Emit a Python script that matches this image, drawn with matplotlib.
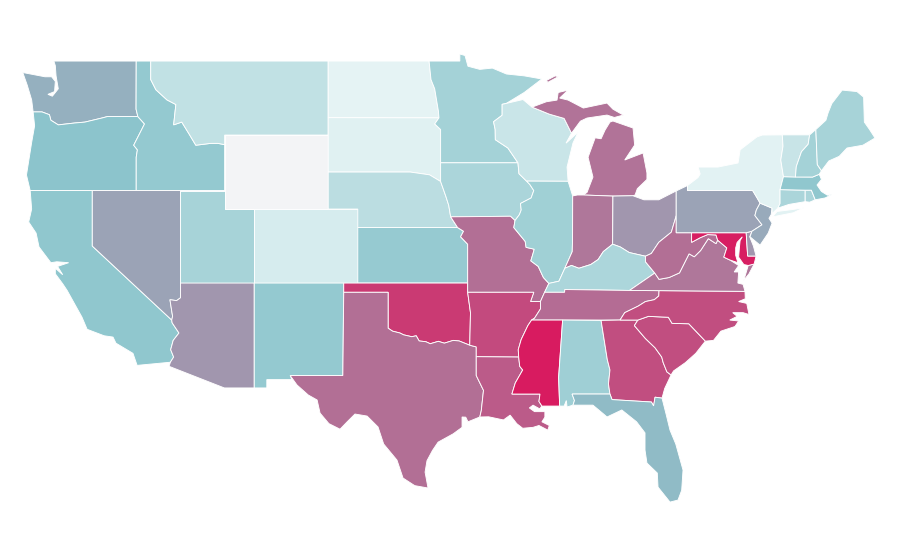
import matplotlib
matplotlib.use("Agg")
import matplotlib.pyplot as plt
from matplotlib.colors import LinearSegmentedColormap
from matplotlib.patches import Polygon

state_names = ["WA", "OR", "CA", "ID", "NV", "UT", "AZ", "MT", "WY", "CO", "NM", "ND", "SD", "NE", "KS", "OK", "TX",
               "MN", "IA", "MO", "AR", "LA", "WI", "IL", "MI", "IN", "OH", "KY", "TN", "MS", "AL", "GA", "FL", "SC",
               "NC", "VA", "WV", "MD", "DE", "PA", "NJ", "NY", "CT", "RI", "MA", "VT", "NH", "ME"]
state_values = [56, 50, 48, 46, 60, 37, 64, 24, 0, 14, 46, 7, 9, 27, 45, 91, 75,
                38, 35, 75, 86, 81, 20, 40, 74, 73, 64, 34, 76, 100, 41, 85, 53, 85,
                85, 73, 75, 99, 64, 60, 58, 8, 35, 35, 48, 21, 38, 37]
scale_stops = [0, 0.05, 0.5, 1]
scale_colors = ["#f3f4f6", "#e8f5f6", "#8cc5cc", "#d81b60"]

# outlines in lon, lat
WA = [[(-124.0, 46.25), (-123.4, 46.25), (-122.9, 46.1), (-122.8, 45.8), (-122.3, 45.55), (-121.2, 45.65), (-120.5, 45.7),
       (-119.3, 45.93), (-118.98, 46.0), (-116.92, 46.0), (-117.04, 46.4), (-117.03, 49), (-122.6, 49), (-122.5, 48.75),
       (-122.45, 48.2), (-122.3, 47.5), (-122.7, 47.1), (-123.0, 47.2), (-122.55, 47.35), (-122.5, 47.9), (-122.75, 48.15),
       (-123.2, 48.15), (-124.7, 48.38), (-124.4, 47.7), (-124.1, 46.9)]]
OR = [[(-124.2, 42), (-117.03, 42), (-117.03, 43.8), (-116.95, 44.2), (-117.2, 44.45), (-116.85, 45.0), (-116.47, 45.6),
       (-116.92, 46.0), (-118.98, 46.0), (-119.3, 45.93), (-120.5, 45.7), (-121.2, 45.65), (-122.3, 45.55), (-122.8, 45.8),
       (-122.9, 46.1), (-123.4, 46.25), (-124.0, 46.25), (-123.9, 45.5), (-124.1, 44.6), (-124.45, 42.84)]]
CA = [[(-124.2, 42), (-120, 42), (-120, 39), (-114.63, 35.0), (-114.6, 34.85), (-114.14, 34.3), (-114.53, 33.9), (-114.7, 33.4),
       (-114.5, 33.0), (-114.72, 32.72), (-116.97, 32.55), (-117.25, 33.2), (-118.4, 33.75), (-118.6, 34.08), (-119.2, 34.15),
       (-120.35, 34.5), (-120.7, 35.16), (-121.7, 36.6), (-122.0, 36.96), (-122.5, 37.5), (-122.5, 37.8), (-122.0, 37.45),
       (-122.35, 37.9), (-121.6, 38.1), (-122.4, 38.15), (-122.8, 38.1), (-123.6, 38.95), (-123.8, 39.7), (-124.3, 40.3),
       (-124.1, 41.0)]]
ID = [[(-117.03, 49), (-116.05, 49), (-116.05, 48.0), (-115.7, 47.45), (-114.95, 46.9), (-114.35, 46.65), (-114.5, 45.55),
       (-113.95, 45.7), (-113.45, 45.05), (-113.0, 44.45), (-112.0, 44.55), (-111.5, 44.55), (-111.05, 44.48), (-111.05, 42),
       (-117.03, 42), (-117.03, 43.8), (-116.95, 44.2), (-117.2, 44.45), (-116.85, 45.0), (-116.47, 45.6), (-116.92, 46.0),
       (-117.04, 46.4)]]
NV = [[(-120, 42), (-114.04, 42), (-114.04, 36.2), (-114.3, 36.05), (-114.75, 36.1), (-114.57, 35.2), (-114.63, 35.0), (-120, 39)]]
UT = [[(-114.04, 42), (-111.05, 42), (-111.05, 41), (-109.05, 41), (-109.05, 37), (-114.04, 37)]]
AZ = [[(-114.04, 37), (-109.05, 37), (-109.05, 31.33), (-111.07, 31.33), (-114.81, 32.5), (-114.72, 32.72), (-114.5, 33.0),
       (-114.7, 33.4), (-114.53, 33.9), (-114.14, 34.3), (-114.6, 34.85), (-114.63, 35.0), (-114.57, 35.2), (-114.75, 36.1),
       (-114.3, 36.05), (-114.04, 36.2)]]
MT = [[(-116.05, 49), (-104.05, 49), (-104.05, 45), (-111.05, 45), (-111.05, 44.48), (-111.5, 44.55), (-112.0, 44.55),
       (-113.0, 44.45), (-113.45, 45.05), (-113.95, 45.7), (-114.5, 45.55), (-114.35, 46.65), (-114.95, 46.9), (-115.7, 47.45),
       (-116.05, 48.0)]]
WY = [[(-111.05, 45), (-104.05, 45), (-104.05, 41), (-111.05, 41)]]
CO = [[(-109.05, 41), (-102.05, 41), (-102.05, 37), (-109.05, 37)]]
NM = [[(-109.05, 37), (-103.0, 37), (-103.06, 32), (-106.62, 32), (-106.5, 31.78), (-108.2, 31.78), (-108.2, 31.33), (-109.05, 31.33)]]
ND = [[(-104.05, 49), (-97.23, 49), (-97.1, 48.0), (-96.85, 47.5), (-96.6, 46.3), (-96.56, 45.93), (-104.05, 45.94)]]
SD = [[(-104.05, 45.94), (-96.56, 45.93), (-96.85, 45.6), (-96.45, 45.3), (-96.45, 43.5), (-96.45, 42.49), (-97.2, 42.85),
       (-98.5, 43.0), (-104.05, 43)]]
NE = [[(-104.05, 43), (-98.5, 43), (-97.2, 42.85), (-96.45, 42.49), (-96.1, 41.7), (-95.9, 41.2), (-95.77, 40.58), (-95.3, 40),
       (-102.05, 40), (-102.05, 41), (-104.05, 41)]]
KS = [[(-102.05, 40), (-95.3, 40), (-94.9, 39.8), (-95.1, 39.5), (-94.62, 39.1), (-94.62, 37), (-102.05, 37)]]
OK = [[(-103, 37), (-94.62, 37), (-94.62, 36.5), (-94.43, 35.4), (-94.48, 33.64), (-95.2, 33.87), (-95.6, 33.9), (-96.2, 33.75),
       (-96.6, 33.85), (-97.15, 33.72), (-97.45, 33.83), (-97.9, 33.87), (-98.1, 34.15), (-98.4, 34.1), (-98.95, 34.2),
       (-99.2, 34.3), (-99.7, 34.4), (-100, 34.56), (-100, 36.5), (-103, 36.5)]]
TX = [[(-103.0, 36.5), (-100, 36.5), (-100, 34.56), (-99.7, 34.4), (-99.2, 34.3), (-98.95, 34.2), (-98.4, 34.1), (-98.1, 34.15),
       (-97.9, 33.87), (-97.45, 33.83), (-97.15, 33.72), (-96.6, 33.85), (-96.2, 33.75), (-95.6, 33.9), (-95.2, 33.87),
       (-94.48, 33.64), (-94.04, 33.55), (-94.04, 32.0), (-93.55, 31.2), (-93.7, 30.1), (-93.8, 29.76), (-94.6, 29.5),
       (-94.75, 29.75), (-95.0, 29.76), (-95.0, 29.2), (-95.6, 28.85), (-96.62, 28.4), (-97.0, 27.95), (-97.37, 27.4), (-97.5, 26.78),
       (-97.3, 25.92), (-98.2, 26.05), (-98.99, 26.46), (-99.4, 27.43), (-100.3, 28.3), (-100.68, 29.22),
       (-101.42, 29.81), (-102.24, 29.92), (-102.78, 29.49), (-103.25, 29.1), (-104.0, 29.4), (-104.6, 29.97), (-104.8, 30.68),
       (-105.4, 30.95), (-106.16, 31.49), (-106.62, 32), (-103.06, 32)]]
MN = [[(-97.23, 49), (-95.15, 49), (-95.15, 49.38), (-94.8, 49.3), (-94.6, 48.72), (-93.8, 48.55), (-92.95, 48.62), (-92.0, 48.3),
       (-90.8, 48.2), (-89.6, 48.03), (-90.8, 47.3), (-92.01, 46.71), (-92.29, 46.66), (-92.29, 46.07), (-92.87, 45.72),
       (-92.76, 45.3), (-92.75, 44.75), (-91.9, 44.3), (-91.22, 43.5), (-96.45, 43.5), (-96.45, 45.3), (-96.85, 45.6),
       (-96.56, 45.93), (-96.6, 46.3), (-96.85, 47.5), (-97.1, 48.0)]]
IA = [[(-96.45, 43.5), (-91.22, 43.5), (-91.15, 42.91), (-90.64, 42.51), (-90.42, 42.33), (-90.15, 42.0), (-90.33, 41.6),
       (-91.05, 41.3), (-91.0, 40.95), (-91.12, 40.7), (-91.42, 40.38), (-91.73, 40.61), (-95.77, 40.58), (-95.9, 41.2),
       (-96.1, 41.7), (-96.45, 42.49)]]
MO = [[(-95.77, 40.58), (-91.73, 40.61), (-91.42, 40.38), (-91.5, 40.0), (-90.73, 39.25), (-90.67, 38.93), (-90.12, 38.83),
       (-90.2, 38.6), (-90.35, 38.2), (-89.85, 37.9), (-89.5, 37.3), (-89.13, 36.98), (-89.42, 36.5), (-89.7, 36.0), (-90.37, 36.0),
       (-90.15, 36.5), (-94.62, 36.5), (-94.62, 39.1), (-95.1, 39.5), (-94.9, 39.8), (-95.3, 40)]]
AR = [[(-94.62, 36.5), (-90.15, 36.5), (-90.37, 36.0), (-89.7, 36.0), (-89.7, 35.6), (-90.1, 35.1), (-90.3, 35.0), (-90.55, 34.7),
       (-91.0, 33.95), (-91.2, 33.4), (-91.17, 33.0), (-94.04, 33.02), (-94.04, 33.55), (-94.48, 33.64), (-94.43, 35.4)]]
LA = [[(-94.04, 33.02), (-91.17, 33.0), (-91.1, 32.5), (-90.9, 32.3), (-91.4, 31.6), (-91.63, 31.0), (-89.73, 31.0), (-89.8, 30.6),
       (-89.6, 30.35), (-89.75, 30.2), (-90.2, 30.4), (-90.45, 30.25), (-90.1, 30.05), (-89.4, 30.05), (-89.4, 29.75), (-89.6, 29.5),
       (-89.1, 29.3), (-89.2, 29.05), (-89.8, 29.3), (-90.2, 29.2), (-90.9, 29.15), (-91.3, 29.4), (-91.75, 29.86), (-92.2, 29.6),
       (-93.2, 29.77), (-93.8, 29.76), (-93.7, 30.1), (-93.55, 31.2), (-94.04, 32.0)]]
WI = [[(-92.01, 46.71), (-90.88, 46.92), (-90.27, 46.51), (-89.1, 46.13), (-88.1, 45.9), (-87.6, 45.1), (-87.97, 44.56), (-87.15, 45.16),
       (-87.5, 44.57), (-87.9, 43.27), (-87.83, 42.5), (-90.64, 42.51), (-91.15, 42.91), (-91.22, 43.5), (-91.9, 44.3), (-92.75, 44.75),
       (-92.76, 45.3), (-92.87, 45.72), (-92.29, 46.07), (-92.29, 46.66)]]
IL = [[(-90.64, 42.51), (-87.83, 42.5), (-87.52, 41.71), (-87.53, 39.35), (-87.55, 38.7), (-88.05, 37.8), (-88.45, 37.1), (-89.13, 36.98),
       (-89.5, 37.3), (-89.85, 37.9), (-90.35, 38.2), (-90.2, 38.6), (-90.12, 38.83), (-90.67, 38.93), (-90.73, 39.25), (-91.5, 40.0),
       (-91.42, 40.38), (-91.12, 40.7), (-91.0, 40.95), (-91.05, 41.3), (-90.33, 41.6), (-90.15, 42.0), (-90.42, 42.33)]]
MI = [[(-90.27, 46.51), (-89.3, 46.8), (-88.58, 46.89), (-88.5, 47.3), (-87.83, 47.43), (-88.4, 47.0), (-87.83, 46.89), (-86.8, 46.46),
       (-85.2, 46.73), (-84.8, 46.4), (-84.1, 46.08), (-84.7, 45.95), (-85.2, 46.08), (-86.55, 45.92), (-87.0, 45.75), (-87.6, 45.1),
       (-88.1, 45.9), (-89.1, 46.13)],
      [(-86.82, 41.76), (-86.55, 41.9), (-86.15, 42.73), (-86.48, 43.8), (-86.0, 44.85), (-85.6, 44.8), (-85.33, 45.27), (-85.0, 45.7), (-84.8, 45.76),
       (-83.44, 45.38), (-83.33, 44.46), (-84.0, 43.65), (-82.76, 44.03), (-82.5, 42.95), (-82.5, 42.6), (-83.15, 42.1),
       (-83.3, 41.76), (-83.45, 41.72), (-84.8, 41.7)],
      [(-89.2, 47.85), (-88.5, 48.15), (-88.7, 48.2), (-89.3, 47.95)]]
IN = [[(-87.52, 41.71), (-87.2, 41.76), (-86.82, 41.76), (-84.8, 41.7), (-84.82, 39.1), (-85.45, 38.7), (-85.8, 38.27), (-86.3, 38.0),
       (-87.1, 37.8), (-87.6, 37.95), (-88.05, 37.8), (-87.55, 38.7), (-87.53, 39.35)]]
OH = [[(-84.8, 41.7), (-83.45, 41.72), (-82.7, 41.5), (-81.7, 41.5), (-80.52, 41.98), (-80.52, 40.64), (-80.85, 39.75), (-81.7, 39.2),
       (-82.2, 38.6), (-82.6, 38.45), (-83.7, 38.65), (-84.3, 38.95), (-84.82, 39.1)]]
KY = [[(-89.42, 36.5), (-89.13, 36.98), (-88.45, 37.1), (-88.05, 37.8), (-87.6, 37.95), (-87.1, 37.8), (-86.3, 38.0), (-85.8, 38.27),
       (-85.45, 38.7), (-84.82, 39.1), (-84.3, 38.95), (-83.7, 38.65), (-82.6, 38.45), (-82.6, 38.15), (-81.97, 37.54), (-83.68, 36.6),
       (-88.05, 36.65), (-88.07, 36.5)]]
TN = [[(-89.7, 36.0), (-89.42, 36.5), (-88.07, 36.5), (-88.05, 36.65), (-83.68, 36.6), (-81.68, 36.59), (-81.7, 36.3), (-82.0, 36.1),
       (-82.6, 36.0), (-83.1, 35.75), (-84.0, 35.4), (-84.32, 35.0), (-90.3, 35.0), (-90.1, 35.1), (-89.7, 35.6)]]
MS = [[(-90.3, 35.0), (-88.2, 35.0), (-88.47, 31.9), (-88.4, 30.35), (-89.6, 30.35), (-89.8, 30.6), (-89.73, 31.0), (-91.63, 31.0),
       (-91.4, 31.6), (-90.9, 32.3), (-91.1, 32.5), (-91.17, 33.0), (-91.2, 33.4), (-91.0, 33.95), (-90.55, 34.7)]]
AL = [[(-88.2, 35.0), (-85.6, 34.98), (-85.18, 32.87), (-85.0, 32.3), (-85.1, 31.55), (-85.0, 31.0), (-87.56, 31.0), (-87.4, 30.65),
       (-87.5, 30.4), (-87.9, 30.3), (-87.95, 30.65), (-88.1, 30.35), (-88.4, 30.35), (-88.47, 31.9)]]
GA = [[(-85.6, 34.98), (-84.32, 35.0), (-83.11, 35.0), (-83.35, 34.7), (-82.6, 34.0), (-81.95, 33.5), (-81.5, 33.0), (-81.4, 32.7),
       (-81.15, 32.2), (-80.87, 32.03), (-81.3, 31.3), (-81.48, 30.78), (-81.95, 30.83), (-82.05, 30.36), (-82.2, 30.57), (-84.86, 30.7),
       (-85.0, 31.0), (-85.1, 31.55), (-85.0, 32.3), (-85.18, 32.87)]]
FL = [[(-87.56, 31.0), (-85.0, 31.0), (-84.86, 30.7), (-82.2, 30.57), (-82.05, 30.36), (-81.95, 30.83), (-81.48, 30.78), (-81.2, 29.9),
       (-80.94, 29.05), (-80.55, 28.3), (-80.06, 26.89), (-80.15, 25.8), (-80.4, 25.27), (-80.94, 25.16), (-81.75, 25.97), (-81.8, 26.73),
       (-82.5, 27.27), (-82.63, 27.97), (-82.63, 28.9), (-83.2, 29.5), (-84.2, 30.14), (-85.2, 29.76), (-85.4, 29.9), (-86.15, 30.4),
       (-87.5, 30.4), (-87.4, 30.65)]]
SC = [[(-83.11, 35.0), (-82.4, 35.2), (-81.05, 35.15), (-80.8, 34.82), (-79.67, 34.8), (-78.55, 33.86), (-79.2, 33.2), (-79.9, 32.7),
       (-80.7, 32.25), (-80.87, 32.03), (-81.15, 32.2), (-81.4, 32.7), (-81.5, 33.0), (-81.95, 33.5), (-82.6, 34.0), (-83.35, 34.7)]]
NC = [[(-75.87, 36.55), (-81.68, 36.59), (-81.7, 36.3), (-82.0, 36.1), (-82.6, 36.0), (-83.1, 35.75), (-84.0, 35.4), (-84.32, 35.0),
       (-83.11, 35.0), (-82.4, 35.2), (-81.05, 35.15), (-80.8, 34.82), (-79.67, 34.8), (-78.55, 33.86), (-78.0, 33.9), (-77.5, 34.4),
       (-76.55, 34.65), (-76.3, 34.95), (-76.9, 35.0), (-76.4, 35.2), (-76.7, 35.4), (-76.0, 35.4), (-75.6, 35.3), (-75.75, 35.9),
       (-76.3, 36.0), (-75.85, 36.15)]]
VA = [[(-83.68, 36.6), (-81.97, 37.54), (-81.68, 37.2), (-81.0, 37.3), (-80.3, 37.55), (-79.65, 38.58), (-79.3, 38.42), (-78.87, 38.76),
       (-78.35, 39.4), (-77.83, 39.13), (-77.72, 39.32), (-77.1, 38.9), (-77.3, 38.4), (-76.9, 38.25), (-76.3, 37.95), (-76.6, 37.6), (-76.3, 37.6),
       (-76.35, 37.0), (-76.0, 36.93), (-75.87, 36.55), (-81.68, 36.59)],
      [(-75.95, 37.15), (-75.65, 37.95), (-75.25, 38.03), (-75.6, 37.5)]]
WV = [[(-82.6, 38.45), (-82.2, 38.6), (-81.7, 39.2), (-80.85, 39.75), (-80.52, 40.64), (-80.52, 39.72), (-79.48, 39.72), (-79.48, 39.2),
       (-78.9, 39.45), (-78.4, 39.62), (-77.83, 39.6), (-77.72, 39.32), (-77.83, 39.13), (-78.35, 39.4), (-78.87, 38.76), (-79.3, 38.42),
       (-79.65, 38.58), (-80.3, 37.55), (-81.0, 37.3), (-81.68, 37.2), (-81.97, 37.54), (-82.6, 38.15)]]
MD = [[(-79.48, 39.72), (-75.79, 39.72), (-75.69, 38.46), (-75.12, 38.46), (-75.25, 38.03), (-75.65, 37.95), (-75.95, 38.0), (-76.3, 38.4),
       (-76.25, 38.9), (-76.2, 39.3), (-76.05, 39.5), (-76.4, 39.2), (-76.5, 38.9), (-76.5, 38.5), (-76.35, 38.1), (-76.9, 38.25), (-77.3, 38.4),
       (-77.1, 38.9), (-77.72, 39.32), (-77.83, 39.6), (-78.4, 39.62), (-78.9, 39.45), (-79.48, 39.2)]]
DE = [[(-75.79, 39.72), (-75.4, 39.8), (-75.55, 39.5), (-75.3, 39.0), (-75.12, 38.46), (-75.69, 38.46)]]
PA = [[(-80.52, 41.98), (-79.76, 42.27), (-79.76, 42.0), (-75.35, 42.0), (-75.05, 41.6), (-74.85, 41.32), (-75.1, 40.95), (-75.2, 40.65),
       (-74.72, 40.15), (-75.4, 39.8), (-75.79, 39.72), (-80.52, 39.72), (-80.52, 40.64)]]
NJ = [[(-74.85, 41.32), (-74.04, 41.05), (-74.1, 40.7), (-74.25, 40.5), (-74.04, 40.24), (-74.3, 39.7), (-74.85, 39.05), (-75.53, 39.5),
       (-75.4, 39.8), (-74.72, 40.15), (-75.2, 40.65), (-75.1, 40.95)]]
NY = [[(-79.76, 42.27), (-79.05, 42.7), (-78.9, 42.9), (-79.04, 43.27), (-77.7, 43.27), (-76.34, 43.49), (-76.2, 44.2), (-75.06, 44.9),
       (-74.7, 45.0), (-73.35, 45.01), (-73.3, 44.4), (-73.45, 43.65), (-73.27, 42.75), (-73.5, 42.05), (-73.5, 41.3), (-73.65, 41.05),
       (-74.04, 40.75), (-74.04, 41.05), (-74.85, 41.32), (-75.05, 41.6), (-75.35, 42.0), (-79.76, 42.0)],
      [(-74.0, 40.58), (-72.6, 40.8), (-71.9, 41.07), (-72.6, 40.98), (-73.7, 40.87)]]
CT = [[(-73.5, 42.05), (-71.8, 42.02), (-71.8, 41.4), (-72.9, 41.25), (-73.65, 41.05), (-73.5, 41.3)]]
RI = [[(-71.8, 42.02), (-71.38, 42.02), (-71.12, 41.5), (-71.5, 41.37), (-71.8, 41.4)]]
MA = [[(-73.5, 42.05), (-73.27, 42.75), (-71.3, 42.73), (-70.85, 42.88), (-70.7, 42.6), (-71.0, 42.3), (-70.7, 41.95), (-70.3, 41.75),
       (-70.0, 41.78), (-70.45, 41.6), (-71.12, 41.5), (-71.38, 42.02), (-71.8, 42.02)]]
VT = [[(-73.35, 45.01), (-71.5, 45.01), (-71.6, 44.5), (-72.05, 44.1), (-72.4, 43.3), (-72.46, 42.73), (-73.27, 42.75), (-73.45, 43.65),
       (-73.3, 44.4)]]
NH = [[(-71.5, 45.01), (-71.08, 45.3), (-70.98, 43.4), (-70.7, 43.07), (-70.85, 42.88), (-71.3, 42.73), (-72.46, 42.73), (-72.4, 43.3),
       (-72.05, 44.1), (-71.6, 44.5)]]
ME = [[(-71.08, 45.3), (-70.4, 45.8), (-70.25, 46.2), (-70.0, 46.7), (-69.3, 47.43), (-68.3, 47.35), (-67.85, 47.05), (-67.8, 45.7),
       (-67.45, 45.3), (-67.08, 44.84), (-67.9, 44.45), (-68.97, 44.3), (-69.5, 43.85), (-70.2, 43.6), (-70.7, 43.07), (-70.98, 43.4)]]

state_outlines = {"WA": WA, "OR": OR, "CA": CA, "ID": ID, "NV": NV, "UT": UT, "AZ": AZ, "MT": MT, "WY": WY, "CO": CO, "NM": NM,
                  "ND": ND, "SD": SD, "NE": NE, "KS": KS, "OK": OK, "TX": TX, "MN": MN, "IA": IA, "MO": MO, "AR": AR, "LA": LA,
                  "WI": WI, "IL": IL, "MI": MI, "IN": IN, "OH": OH, "KY": KY, "TN": TN, "MS": MS, "AL": AL, "GA": GA, "FL": FL,
                  "SC": SC, "NC": NC, "VA": VA, "WV": WV, "MD": MD, "DE": DE, "PA": PA, "NJ": NJ, "NY": NY, "CT": CT, "RI": RI,
                  "MA": MA, "VT": VT, "NH": NH, "ME": ME}

cmap = LinearSegmentedColormap.from_list("teal_crimson", list(zip(scale_stops, scale_colors)))

fig = plt.figure(figsize=(9, 5.6), dpi=100)
ax = fig.add_axes([0, 0, 1, 1])
for name, value in zip(state_names, state_values):
    for ring in state_outlines[name]:
        ax.add_patch(Polygon(ring, closed=True, facecolor=cmap(value / 100), edgecolor="white", linewidth=0.65))
ax.set_xlim(-126.24, -65.39)
ax.set_ylim(22.03, 52.30)
ax.axis("off")
fig.savefig("out.png", dpi=100)
